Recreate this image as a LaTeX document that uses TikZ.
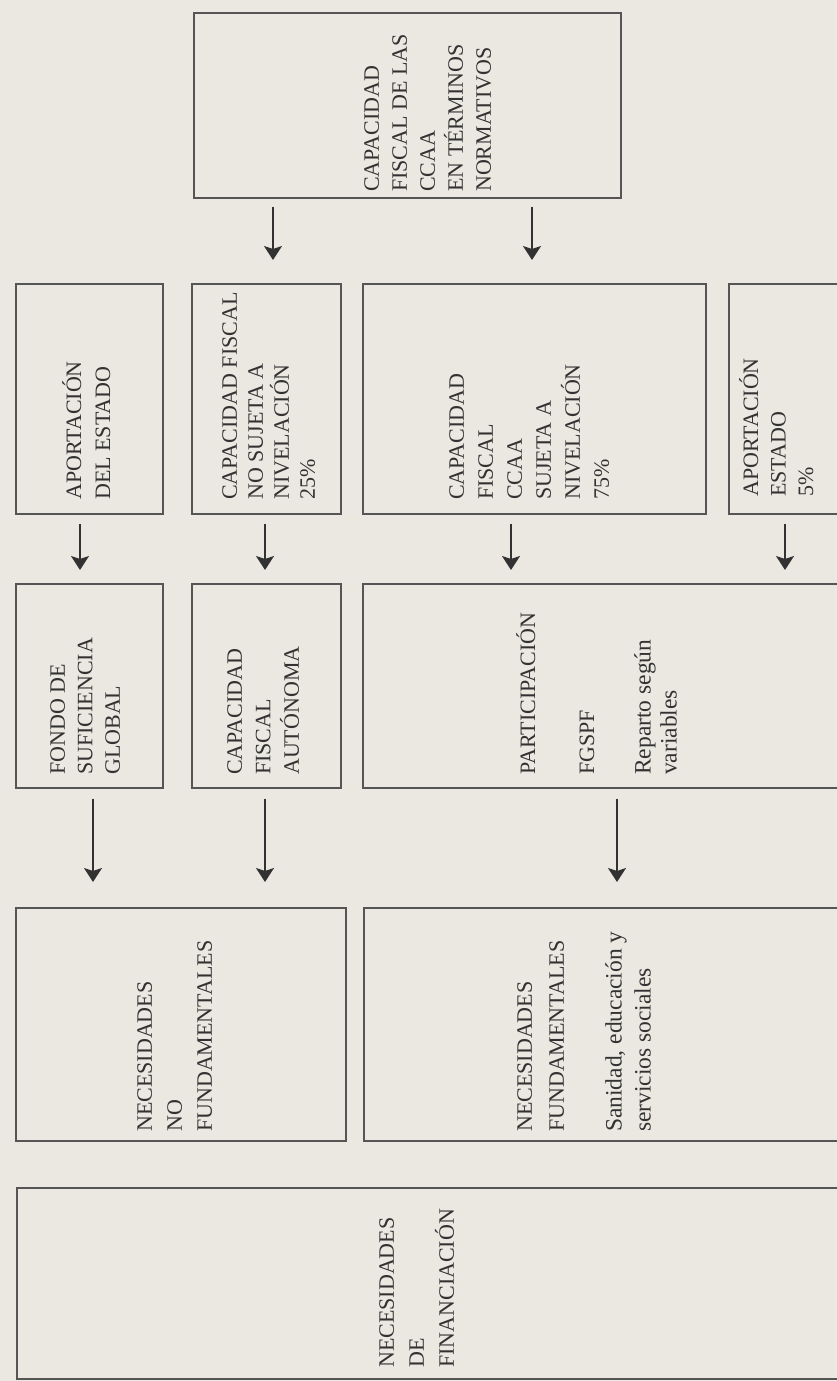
\documentclass[tikz,border=0pt]{standalone}
\usepackage{fontspec}
\setmainfont{Liberation Serif}
\usetikzlibrary{arrows.meta}
\definecolor{paper}{RGB}{234,232,225}
\definecolor{ink}{RGB}{50,50,50}
\definecolor{frame}{RGB}{85,85,85}
\begin{document}
\begin{tikzpicture}[x=1pt,y=-1pt,
  box/.style={draw=frame, line width=1.6pt, inner sep=0pt, anchor=north west},
  lbl/.style={rotate=90, anchor=north west, inner sep=0pt, align=left, text=ink,
    execute at begin node={\rule{0pt}{20pt}}},
  sk/.style={font=\fontsize{22}{#1}\selectfont},
  lk/.style={font=\fontsize{23.5}{#1}\selectfont},
  arr/.style={draw=ink, line width=1.7pt, -{Stealth[length=14pt,width=18pt,inset=3pt]}}]
\useasboundingbox (0,0) rectangle (837,1381);
\clip (0,0) rectangle (837,1381);
\fill[paper] (0,0) rectangle (837,1381);
% boxes
\node[box, minimum width=427pt, minimum height=185pt] (T) at (193,12) {};
\node[box, minimum width=147pt, minimum height=230pt] (A2) at (15,283) {};
\node[box, minimum width=149pt, minimum height=230pt] (B2) at (191,283) {};
\node[box, minimum width=343pt, minimum height=230pt] (C2) at (362,283) {};
\node[box, minimum width=130pt, minimum height=230pt] (D2) at (728,283) {};
\node[box, minimum width=147pt, minimum height=204pt] (A3) at (15,583) {};
\node[box, minimum width=149pt, minimum height=204pt] (B3) at (191,583) {};
\node[box, minimum width=490pt, minimum height=204pt] (C3) at (362,583) {};
\node[box, minimum width=330pt, minimum height=233pt] (A4) at (15,907) {};
\node[box, minimum width=490pt, minimum height=233pt] (B4) at (363,907) {};
\node[box, minimum width=840pt, minimum height=191pt] (R5) at (16,1187) {};
% labels
\node[lbl, sk=28] (tT) at (364,192) {CAPACIDAD\\FISCAL DE LAS\\CCAA\\EN TÉRMINOS\\NORMATIVOS};
\node[lbl, sk=29] (tA2) at (62,500) {APORTACIÓN\\DEL ESTADO};
\node[lbl, sk=26] (tB2) at (222,500) {CAPACIDAD FISCAL\\NO SUJETA A\\NIVELACIÓN\\25\%};
\node[lbl, sk=29] (tC2) at (449,500) {CAPACIDAD\\FISCAL\\CCAA\\SUJETA A\\NIVELACIÓN\\75\%};
\node[lbl, sk=27.5] (tD2) at (739,497) {APORTACIÓN\\ESTADO\\5\%};
\node[lbl, sk=27.5] (tA3) at (50,775) {FONDO DE\\SUFICIENCIA\\GLOBAL};
\node[lbl, sk=28.5] (tB3) at (227,775) {CAPACIDAD\\FISCAL\\AUTÓNOMA};
\node[lbl, sk=28] (tC3a) at (515,775) {PARTICIPACIÓN};
\node[lbl, sk=28] (tC3b) at (574,775) {FGSPF};
\node[lbl, lk=26] (tC3c) at (634,775) {Reparto según\\variables};
\node[lbl, sk=30] (tA4) at (137,1132) {NECESIDADES\\NO\\FUNDAMENTALES};
\node[lbl, sk=32] (tB4a) at (517,1132) {NECESIDADES\\FUNDAMENTALES};
\node[lbl, lk=29] (tB4b) at (605,1132) {Sanidad, educación y\\servicios sociales};
\node[lbl, sk=30] (tR5) at (379,1368) {NECESIDADES\\DE\\FINANCIACIÓN};
% arrow columns
\coordinate (c1) at (273,0);
\coordinate (c2) at (532,0);
\coordinate (c3) at (80,0);
\coordinate (c4) at (265,0);
\coordinate (c5) at (511,0);
\coordinate (c6) at (785,0);
\coordinate (c7) at (93,0);
\coordinate (c8) at (617,0);
% arrows
\draw[arr, shorten <=8pt, shorten >=23pt] (T.south -| c1) -- (B2.north -| c1);
\draw[arr, shorten <=8pt, shorten >=23pt] (T.south -| c2) -- (C2.north -| c2);
\draw[arr, shorten <=9pt, shorten >=13pt] (A2.south -| c3) -- (A3.north -| c3);
\draw[arr, shorten <=9pt, shorten >=13pt] (B2.south -| c4) -- (B3.north -| c4);
\draw[arr, shorten <=9pt, shorten >=13pt] (C2.south -| c5) -- (C3.north -| c5);
\draw[arr, shorten <=9pt, shorten >=13pt] (D2.south -| c6) -- (C3.north -| c6);
\draw[arr, shorten <=10pt, shorten >=25pt] (A3.south -| c7) -- (A4.north -| c7);
\draw[arr, shorten <=10pt, shorten >=25pt] (B3.south -| c4) -- (A4.north -| c4);
\draw[arr, shorten <=10pt, shorten >=25pt] (C3.south -| c8) -- (B4.north -| c8);
\end{tikzpicture}
\end{document}
